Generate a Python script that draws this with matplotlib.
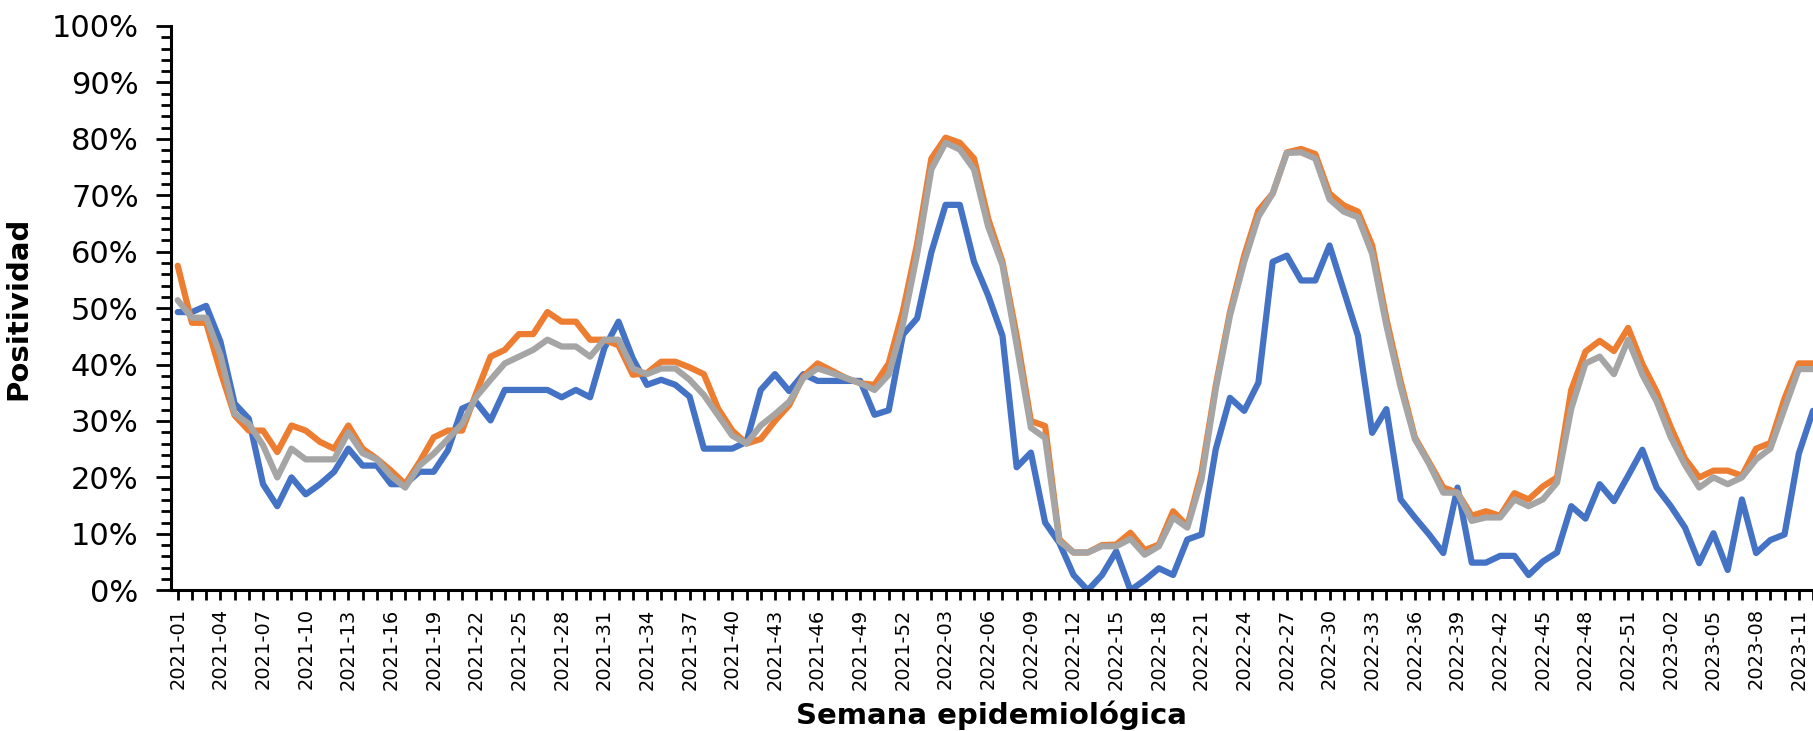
import matplotlib
matplotlib.use("Agg")
import matplotlib.pyplot as plt
from matplotlib.ticker import MultipleLocator, PercentFormatter

# semanas epidemiologicas 2021-01 ... 2023-12 (la ultima queda cortada en el borde)
semanas = [f"2021-{w:02d}" for w in range(1, 53)] + \
          [f"2022-{w:02d}" for w in range(1, 53)] + \
          [f"2023-{w:02d}" for w in range(1, 13)]

serie_azul = [
    49.3, 49.3, 50.4, 44.1, 33.1, 30.4, 18.8, 14.9, 20.0, 17.0,
    18.8, 21.0, 25.1, 22.1, 22.1, 18.8, 18.8, 21.0, 21.0, 24.8,
    32.2, 33.3, 30.1, 35.5, 35.5, 35.5, 35.5, 34.2, 35.5, 34.2,
    42.9, 47.6, 41.1, 36.4, 37.3, 36.4, 34.3, 25.1, 25.1, 25.1,
    26.3, 35.5, 38.3, 35.3, 38.3, 37.1, 37.1, 37.1, 37.1, 31.1,
    31.9, 45.3, 48.2, 59.9, 68.3, 68.3, 58.2, 52.2, 45.1, 21.8,
    24.4, 12.0, 8.4, 2.7, 0.0, 2.7, 6.9, 0.0, 1.8, 3.9,
    2.7, 9.0, 9.9, 25.0, 34.1, 31.8, 36.8, 58.2, 59.3, 54.9,
    54.9, 61.1, 53.1, 45.1, 27.9, 32.1, 16.1, 12.9, 9.9, 6.6,
    18.2, 4.9, 4.9, 6.1, 6.1, 2.7, 5.1, 6.7, 14.9, 12.7,
    18.8, 15.8, 20.3, 24.9, 18.2, 14.9, 11.1, 4.8, 10.1, 3.6,
    16.1, 6.6, 8.9, 9.9, 24.2, 31.8,
]

serie_naranja = [
    57.5, 47.4, 47.4, 38.8, 31.0, 28.3, 28.3, 24.5, 29.2, 28.3,
    26.3, 25.1, 29.2, 25.1, 23.3, 21.2, 18.8, 22.7, 27.1, 28.3,
    28.3, 35.0, 41.4, 42.6, 45.4, 45.4, 49.3, 47.6, 47.6, 44.4,
    44.4, 43.4, 38.2, 38.5, 40.5, 40.5, 39.5, 38.3, 32.2, 28.3,
    26.0, 26.8, 30.0, 32.8, 37.9, 40.2, 38.9, 37.6, 36.7, 36.4,
    40.2, 49.5, 61.4, 76.5, 80.2, 79.3, 76.5, 65.8, 58.2, 45.1,
    30.0, 29.1, 9.0, 6.7, 6.7, 8.0, 8.1, 10.2, 7.1, 8.1,
    14.0, 11.4, 20.9, 36.3, 49.3, 59.3, 67.3, 70.3, 77.6, 78.2,
    77.3, 70.3, 68.2, 67.1, 61.1, 48.1, 37.0, 27.1, 22.7, 18.2,
    17.3, 13.2, 14.0, 13.2, 17.2, 16.1, 18.4, 20.0, 35.5, 42.3,
    44.2, 42.4, 46.5, 40.1, 35.2, 28.9, 23.3, 20.0, 21.2, 21.2,
    20.3, 25.1, 26.1, 34.0, 40.2, 40.2,
]

serie_gris = [
    51.4, 48.3, 48.3, 41.7, 31.3, 29.5, 25.7, 20.0, 25.1, 23.2,
    23.2, 23.2, 28.0, 24.3, 23.2, 20.3, 18.2, 22.1, 24.2, 26.8,
    29.5, 34.3, 37.3, 40.2, 41.4, 42.6, 44.4, 43.2, 43.2, 41.4,
    44.4, 44.4, 39.3, 38.3, 39.3, 39.3, 37.3, 34.6, 31.0, 27.4,
    26.0, 29.2, 31.2, 33.4, 37.6, 39.3, 38.5, 37.6, 36.7, 35.5,
    38.2, 47.1, 59.6, 74.6, 79.3, 78.1, 74.6, 64.4, 57.6, 43.4,
    28.8, 27.0, 8.7, 6.7, 6.7, 7.8, 7.8, 9.1, 6.3, 7.8,
    12.9, 11.1, 19.7, 35.7, 48.7, 58.2, 66.2, 70.3, 77.5, 77.6,
    76.5, 69.3, 67.1, 66.1, 59.6, 46.9, 36.0, 26.8, 22.4, 17.3,
    17.3, 12.3, 12.9, 12.9, 16.1, 14.9, 16.1, 19.1, 32.2, 40.2,
    41.4, 38.3, 44.4, 38.2, 33.5, 27.1, 22.2, 18.2, 20.0, 18.8,
    20.0, 23.2, 25.1, 32.2, 39.2, 39.2,
]

x = list(range(len(semanas)))

fig = plt.figure(figsize=(18.13, 7.31), dpi=100)
ax = fig.add_axes([0.0941, 0.1925, 0.9059, 0.772])

estilo = dict(linewidth=4.5, solid_joinstyle='round', solid_capstyle='round')
ax.plot(x, serie_azul, color='#4472C4', **estilo)
ax.plot(x, serie_naranja, color='#ED7D31', **estilo)
ax.plot(x, serie_gris, color='#A5A5A5', **estilo)

ax.set_xlim(-0.5, 114.92)
ax.set_ylim(0, 100)

ax.yaxis.set_major_locator(MultipleLocator(10))
ax.yaxis.set_minor_locator(MultipleLocator(2))
ax.yaxis.set_major_formatter(PercentFormatter(decimals=0))

ax.set_xticks(x, minor=True)
ax.set_xticks(x[:115:3])
ax.set_xticklabels(semanas[:115:3], rotation=90, fontsize=14)
ax.tick_params(axis='y', which='major', labelsize=22, length=11, width=2, pad=12)
ax.tick_params(axis='y', which='minor', length=7, width=2)
ax.tick_params(axis='x', which='both', length=7, width=2, pad=6)

for lado in ['top', 'right']:
    ax.spines[lado].set_visible(False)
for lado in ['left', 'bottom']:
    ax.spines[lado].set_linewidth(2.2)

ax.set_ylabel("Positividad", fontsize=21, fontweight='bold', labelpad=14)
ax.set_xlabel("Semana epidemiológica", fontsize=21, fontweight='bold')
ax.xaxis.set_label_coords(0.5, -0.222)
ax.xaxis.label.set_verticalalignment('center')

fig.savefig("out.png", dpi=100)
